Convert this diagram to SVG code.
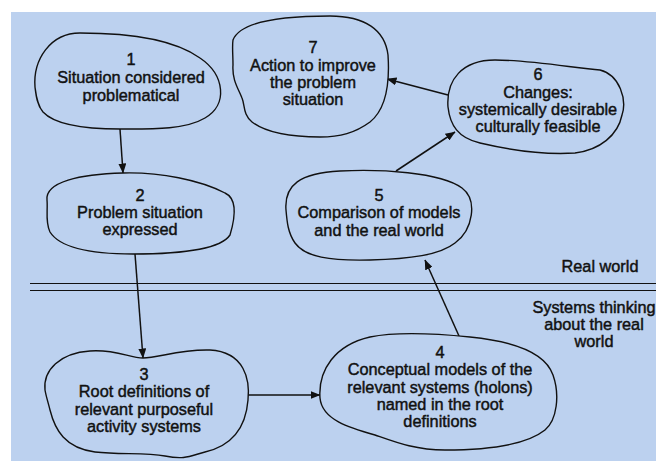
<svg xmlns="http://www.w3.org/2000/svg" width="656" height="461" viewBox="0 0 656 461">
<style>
.bg{fill:#bcd1ef}
.blob{fill:#bcd1ef;stroke:#111;stroke-width:1.4}
.t{font-family:"Liberation Sans",Arial,sans-serif;font-size:16.3px;font-weight:normal;fill:#111;stroke:#111;stroke-width:0.45;text-anchor:middle}
.c{stroke:#111;stroke-width:1.5;fill:none;marker-end:url(#ah)}
.rule{stroke:#111;stroke-width:1.2}
</style>
<defs>
<marker id="ah" markerWidth="10" markerHeight="8" refX="9.5" refY="4" orient="auto" markerUnits="userSpaceOnUse">
<path d="M0,0 L10,4 L0,8 Z" fill="#111"/>
</marker>
</defs>
<rect x="0" y="0" width="656" height="461" fill="#ffffff"/>
<rect class="bg" x="11" y="12" width="645" height="449"/>
<g id="divider">
<line class="rule" x1="30" y1="283.5" x2="656" y2="283.5"/>
<line class="rule" x1="30" y1="290.5" x2="656" y2="290.5"/>
</g>
<g id="connectors">
<line class="c" x1="120" y1="129" x2="123" y2="173"/>
<line class="c" x1="135" y1="254" x2="143" y2="358"/>
<line class="c" x1="248" y1="395" x2="320" y2="395"/>
<line class="c" x1="459" y1="336" x2="425" y2="260"/>
<line class="c" x1="396" y1="171" x2="455" y2="132"/>
<line class="c" x1="448" y1="95" x2="387" y2="79"/>
</g>
<g id="node1">
<path class="blob" d="M 35,87 C 33,60 50,33 80,33 C 130,33 175,40 200,58 C 225,75 228,105 205,118 C 185,130 150,129 120,129 C 85,129 55,125 43,112 C 37,105 36,95 35,87 Z"/>
<text class="t" x="131" y="65">1</text>
<text class="t" x="131" y="83">Situation considered</text>
<text class="t" x="131" y="101">problematical</text>
</g>
<g id="node2">
<path class="blob" d="M 47,200 C 45,182 80,174 123,173 C 160,172 200,180 225,193 C 240,200 233,225 230,235 C 220,250 180,254 133,254 C 90,254 60,248 50,232 C 45,222 48,210 47,200 Z"/>
<text class="t" x="140" y="201">2</text>
<text class="t" x="140" y="218">Problem situation</text>
<text class="t" x="140" y="235">expressed</text>
</g>
<g id="node3">
<path class="blob" d="M 45,390 C 43,370 60,353 90,351 C 115,349 130,358 143,358 C 158,358 180,349 210,350 C 245,352 250,380 248,400 C 246,425 235,445 205,452 C 190,456 185,460 165,456 C 145,452 120,455 95,452 C 65,448 55,430 50,410 C 48,402 46,396 45,390 Z"/>
<text class="t" x="144" y="380">3</text>
<text class="t" x="144" y="397">Root definitions of</text>
<text class="t" x="144" y="415">relevant purposeful</text>
<text class="t" x="144" y="432">activity systems</text>
</g>
<g id="node4">
<path class="blob" d="M 320,398 C 318,370 335,345 370,337 C 400,331 440,334 470,337 C 510,341 545,352 553,375 C 560,395 557,420 545,430 C 530,442 500,450 445,450 C 415,450 395,442 375,435 C 350,428 322,420 320,398 Z"/>
<text class="t" x="440" y="358">4</text>
<text class="t" x="440" y="375">Conceptual models of the</text>
<text class="t" x="440" y="393">relevant systems (holons)</text>
<text class="t" x="440" y="410">named in the root</text>
<text class="t" x="440" y="427">definitions</text>
</g>
<g id="node5">
<path class="blob" d="M 286,210 C 284,185 300,173 340,171 C 380,169 440,172 462,188 C 478,200 473,230 455,243 C 440,255 410,259 370,260 C 330,261 305,257 295,243 C 288,233 287,222 286,210 Z"/>
<text class="t" x="379" y="201">5</text>
<text class="t" x="379" y="218">Comparison of models</text>
<text class="t" x="379" y="236">and the real world</text>
</g>
<g id="node6">
<path class="blob" d="M 448,107 C 446,80 462,60 495,60 C 530,60 575,68 600,70 C 620,75 627,100 622,115 C 618,135 600,150 575,153 C 545,155 510,150 480,143 C 458,138 450,125 448,107 Z"/>
<text class="t" x="538" y="80">6</text>
<text class="t" x="538" y="98">Changes:</text>
<text class="t" x="538" y="115">systemically desirable</text>
<text class="t" x="538" y="132">culturally feasible</text>
</g>
<g id="node7">
<path class="blob" d="M 233,40 C 240,22 280,16 330,16 C 365,16 385,30 388,55 C 390,85 385,110 370,122 C 355,133 340,137 320,137 C 290,137 265,132 252,122 C 243,115 245,105 242,98 C 238,88 232,80 233,65 C 233,55 232,46 233,40 Z"/>
<text class="t" x="313" y="53">7</text>
<text class="t" x="313" y="71">Action to improve</text>
<text class="t" x="313" y="88">the problem</text>
<text class="t" x="313" y="105">situation</text>
</g>
<g id="labels">
<text class="t" x="600" y="272">Real world</text>
<text class="t" x="594" y="313">Systems thinking</text>
<text class="t" x="594" y="330">about the real</text>
<text class="t" x="594" y="347">world</text>
</g>
</svg>
